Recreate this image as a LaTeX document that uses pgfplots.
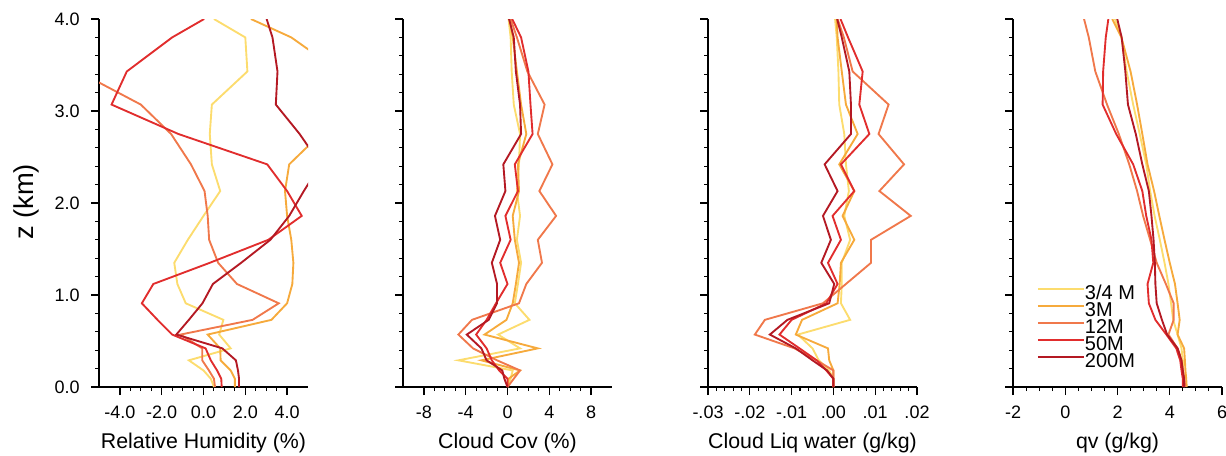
\documentclass[border=0pt]{standalone}
\usepackage{fontspec}
\setmainfont{Liberation Sans}
\usepackage{pgfplots}
\usepackage{pgfplotstable}
\pgfplotsset{compat=1.18}
\definecolor{cA}{RGB}{252,220,110}
\definecolor{cB}{RGB}{246,170,60}
\definecolor{cC}{RGB}{240,120,75}
\definecolor{cD}{RGB}{225,45,45}
\definecolor{cE}{RGB}{180,25,35}

% columns: z, 3/4M, 3M, 12M, 50M, 200M
\pgfplotstableread{
z     a      b      c      d      e
0.00  0.5    1.5    0.55   0.87   1.7
0.09  0.35   1.5    0.5    0.85   1.7
0.18  0.0    1.3    0.26   0.65   1.65
0.29  -0.7   0.82   -0.06  0.35   1.55
0.42  1.3    0.8    -0.06  0.1    0.9
0.57  0.75   0.2    -1.1   -1.5   -1.3
0.73  0.95   3.25   2.35   -2.2   -0.7
0.91  -0.85  4.0    3.6    -2.95  -0.05
1.12  -1.25  4.25   1.6    -2.4   0.45
1.35  -1.4   4.3    0.7    0.3    1.8
1.60  -0.75  4.2    0.27   3.1    3.2
1.86  0.0    4.0    0.2    4.7    4.1
2.13  0.8    3.9    0.05   4.0    4.8
2.42  0.4    4.1    -0.6   3.05   5.6
2.75  0.3    5.6    -1.55  -1.2   4.6
3.07  0.4    6.3    -3.0   -4.4   3.46
3.43  2.1    6.5    -6.0   -3.67  3.54
3.80  2.0    4.2    -7.0   -1.5   3.3
4.00  0.5    2.27   -7.5   0.03   3.02
}\rh

\pgfplotstableread{
z     a      b      c      d      e
0.00  0      0      0      0      0
0.09  0.3    0.1    0.6    0      -0.3
0.18  0.5    1.2    1.2    -0.8   -0.5
0.29  -4.7   -2.5   -1.0   -1.5   -2.0
0.42  1.2    2.9    -3.3   -2.0   -2.5
0.57  -0.9   -2.2   -4.7   -3.0   -3.9
0.73  2.1    -0.1   -3.4   -2.0   -1.8
0.91  0.7    0.5    1.1    -1.1   -1.0
1.12  1.0    0.8    1.8    0.0    -1.0
1.35  1.3    1.1    3.3    -0.7   -1.5
1.60  0.9    0.7    2.9    0.3    -0.7
1.86  1.2    0.5    4.65   -0.2   -1.2
2.13  0.9    1.1    3.05   1.0    -0.2
2.42  1.1    1.0    4.3    0.7    -0.4
2.75  1.2    1.8    2.9    2.4    1.3
3.07  0.6    1.3    3.55   2.2    1.2
3.43  0.4    0.9    1.9    2.0    0.8
3.80  0.3    0.5    0.9    1.3    0.6
4.00  0.1    0.2    0.3    0.45   0.15
}\cc

\pgfplotstableread{
z     a        b        c        d        e
0.00  0        0        0        0        0
0.09  0        0        0        0        0
0.18  -0.001   0        0        -0.0017  -0.0015
0.29  -0.0035  -0.001   -0.004   -0.004   -0.005
0.42  -0.005   -0.0013  -0.0093  -0.0081  -0.009
0.57  -0.0085  -0.009   -0.0188  -0.0129  -0.0152
0.73  0.004    -0.0075  -0.0164  -0.010   -0.011
0.91  0.0018   0.001    -0.0025  -0.0017  -0.001
1.12  0.002    0.0015   0.003    0.001    0.0002
1.35  0.002    0.0018   0.009    -0.0013  -0.0029
1.60  0.004    0.005    0.009    0.0018   -0.0006
1.86  0.0026   0.0022   0.0185   -0.0002  -0.0025
2.13  0.0037   0.005    0.011    0.005    0.001
2.42  0.003    0.0014   0.0169   0.0018   -0.0021
2.75  0.0026   0.0058   0.0108   0.0086   0.0042
3.07  0.0014   0.003    0.0132   0.0062   0.0042
3.43  0.0012   0.002    0.0046   0.007    0.0038
3.80  0.0008   0.001    0.0025   0.0035   0.002
4.00  0.0004   0.0008   0.001    0.0017   0.0009
}\lw

\pgfplotstableread{
z     a      b      c      d      e
0.00  4.57   4.65   4.6    4.5    4.55
0.09  4.55   4.63   4.55   4.5    4.55
0.18  4.52   4.6    4.5    4.45   4.5
0.29  4.5    4.58   4.45   4.4    4.45
0.42  4.45   4.55   4.3    4.25   4.3
0.57  4.3    4.3    3.95   3.87   3.9
0.73  4.13   4.38   4.15   3.45   3.7
0.91  4.05   4.3    4.15   3.2    3.5
1.12  3.95   4.2    3.85   3.15   3.45
1.35  3.8    4.0    3.5    3.37   3.43
1.60  3.62   3.8    3.25   3.3    3.38
1.86  3.42   3.6    2.98   3.1    3.3
2.13  3.25   3.4    2.75   2.95   3.2
2.42  3.1    3.15   2.45   2.6    2.95
2.75  2.85   2.95   2.05   1.95   2.7
3.07  2.6    2.75   1.6    1.43   2.4
3.43  2.35   2.5    1.15   1.45   2.3
3.80  2.15   2.15   0.9    1.55   2.16
4.00  1.9    1.8    0.72   1.65   1.99
}\qv

\pgfplotsset{
  panel/.style={
    scale only axis, width=156.75pt, height=276pt,
    anchor=south west,
    ymin=0, ymax=4,
    axis x line*=bottom, axis y line*=left,
    axis line style={-, line width=1.5pt, black},
    tick align=outside,
    major tick length=6pt, minor tick length=3pt,
    every tick/.style={black, line width=1pt},
    every minor tick/.style={black, line width=0.8pt},
    ytick={0,1,2,3,4}, minor y tick num=4,
    yticklabels={},
    scaled x ticks=false, scaled y ticks=false,
    tick label style={font=\fontsize{13.5}{14}\selectfont},
    xticklabel style={yshift=-5pt},
    yticklabel style={xshift=-5pt},
    xlabel style={font=\fontsize{16}{18}\selectfont, at={(axis description cs:0.5,0)}, anchor=center, yshift=-42pt},
  },
  ln/.style={line width=1.4pt, sharp plot},
}

\begin{document}
\begin{tikzpicture}
\path[use as bounding box] (0,0) rectangle (919.5pt,341.25pt);

\begin{axis}[panel, at={(74.25pt,51pt)},
  xmin=-5, xmax=5, xtick={-4,-2,0,2,4}, xticklabels={-4.0,-2.0,0.0,2.0,4.0}, minor x tick num=3,
  yticklabels={0.0,1.0,2.0,3.0,4.0},
  xlabel={Relative Humidity (\%)}, ylabel={z (km)},
  ylabel style={font=\fontsize{20.5}{22}\selectfont, at={(axis description cs:-0.349,0.503)}, anchor=center}]
\addplot[ln, cA] table[x=a, y=z] {\rh};
\addplot[ln, cB] table[x=b, y=z] {\rh};
\addplot[ln, cC] table[x=c, y=z] {\rh};
\addplot[ln, cD] table[x=d, y=z] {\rh};
\addplot[ln, cE] table[x=e, y=z] {\rh};
\end{axis}

\begin{axis}[panel, at={(302.25pt,51pt)},
  xmin=-10, xmax=10, xtick={-8,-4,0,4,8}, xticklabels={-8,-4,0,4,8}, minor x tick num=3,
  xlabel={Cloud Cov (\%)}]
\addplot[ln, cA] table[x=a, y=z] {\cc};
\addplot[ln, cB] table[x=b, y=z] {\cc};
\addplot[ln, cC] table[x=c, y=z] {\cc};
\addplot[ln, cD] table[x=d, y=z] {\cc};
\addplot[ln, cE] table[x=e, y=z] {\cc};
\end{axis}

\begin{axis}[panel, at={(531pt,51pt)},
  xmin=-0.03, xmax=0.02, xtick={-0.03,-0.02,-0.01,0,0.01,0.02}, xticklabels={-.03,-.02,-.01,.00,.01,.02}, minor x tick num=4,
  xlabel={Cloud Liq water (g/kg)}]
\addplot[ln, cA] table[x=a, y=z] {\lw};
\addplot[ln, cB] table[x=b, y=z] {\lw};
\addplot[ln, cC] table[x=c, y=z] {\lw};
\addplot[ln, cD] table[x=d, y=z] {\lw};
\addplot[ln, cE] table[x=e, y=z] {\lw};
\end{axis}

\begin{axis}[panel, at={(759.75pt,51pt)},
  xmin=-2, xmax=6, xtick={-2,0,2,4,6}, xticklabels={-2,0,2,4,6}, minor x tick num=3,
  xlabel={qv (g/kg)},
  legend cell align=left,
  legend image code/.code={\draw[#1] (0pt,4.5pt) -- (34.5pt,4.5pt);},
  legend style={at={(axis description cs:0.115,0.274)}, anchor=north west, draw=none, fill=none,
    font=\fontsize{15}{15}\selectfont, row sep=0pt, inner sep=0pt, outer sep=0pt,
    nodes={inner sep=0pt, text height=9.75pt, text depth=3pt}}]
\addplot[ln, cA] table[x=a, y=z] {\qv};
\addplot[ln, cB] table[x=b, y=z] {\qv};
\addplot[ln, cC] table[x=c, y=z] {\qv};
\addplot[ln, cD] table[x=d, y=z] {\qv};
\addplot[ln, cE] table[x=e, y=z] {\qv};
\legend{3/4 M,3M,12M,50M,200M}
\end{axis}
\end{tikzpicture}
\end{document}
